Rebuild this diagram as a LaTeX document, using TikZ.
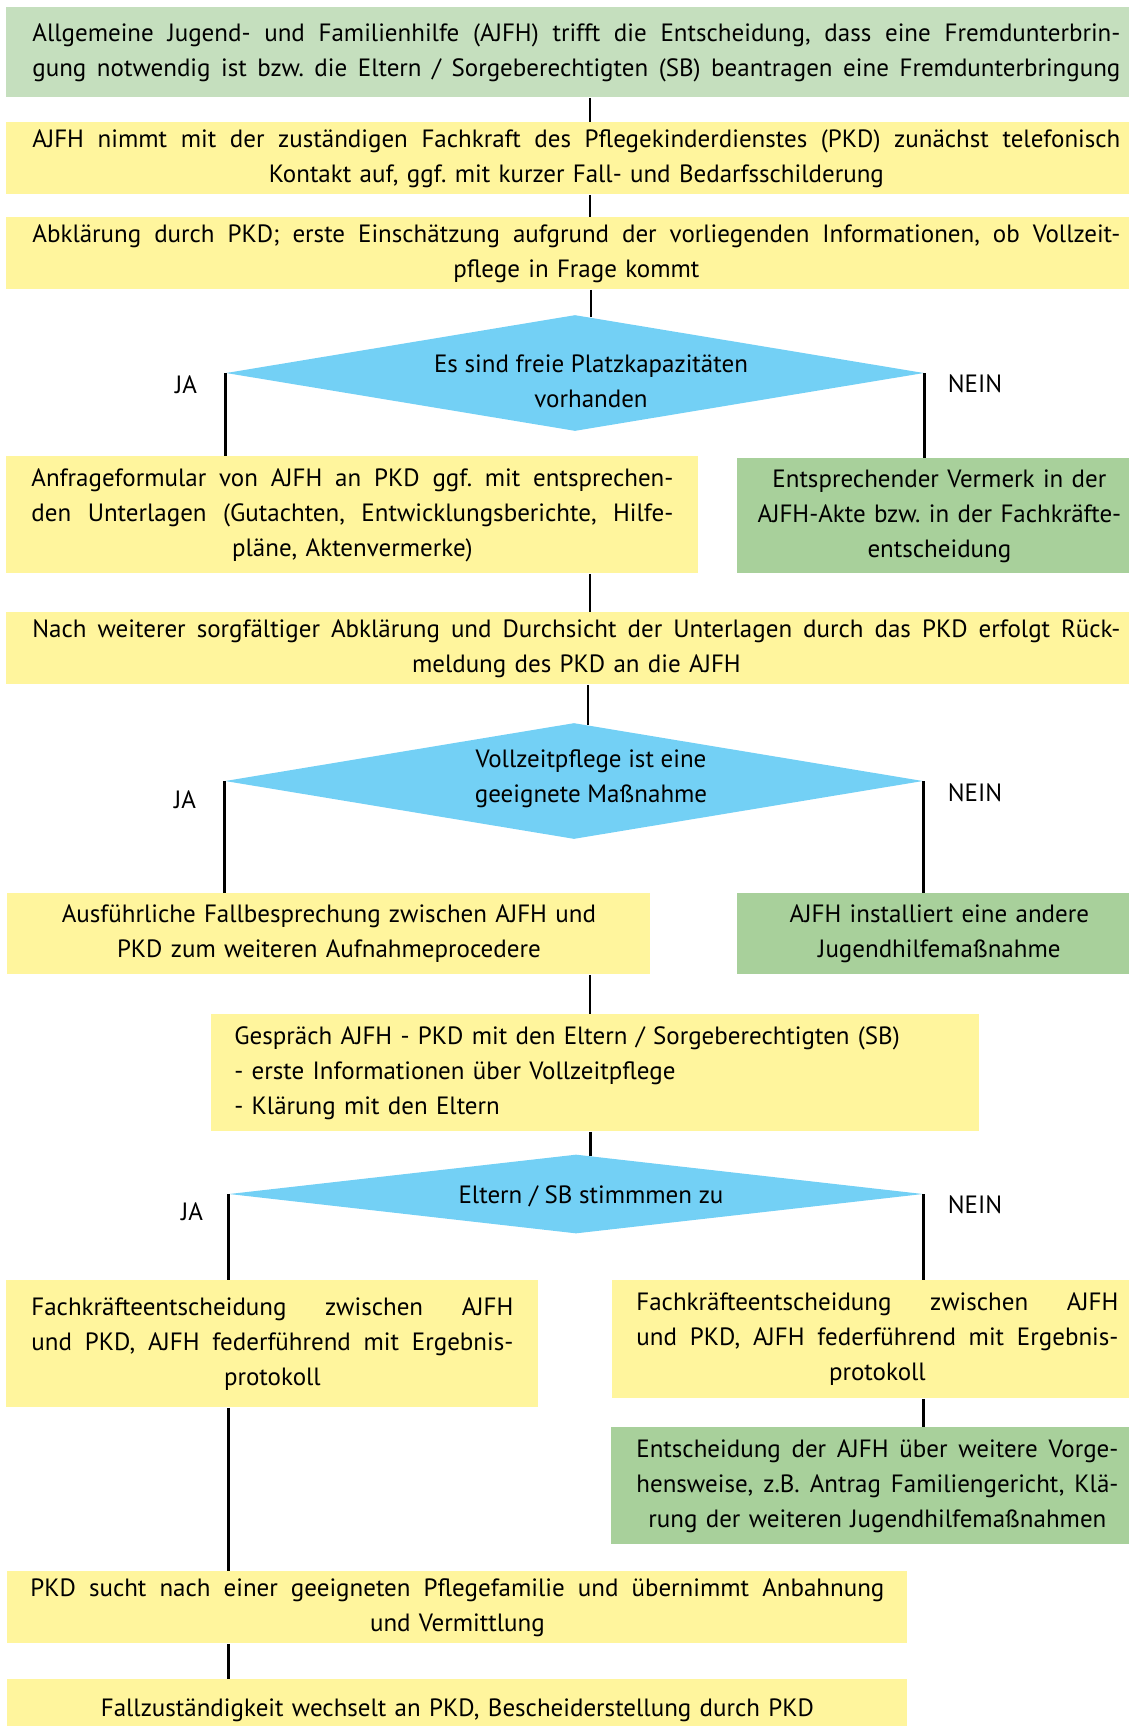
\documentclass[tikz,border=0pt]{standalone}
\usepackage{fontspec}
\setmainfont{PT Sans}
\usetikzlibrary{shapes.geometric,positioning}

\definecolor{boxyellow}{RGB}{255,245,157}
\definecolor{palegreen}{RGB}{197,223,190}
\definecolor{leafgreen}{RGB}{168,208,155}
\definecolor{skyblue}{RGB}{115,208,245}
% one justified line, spread to the full text width
\newcommand{\fullline}[1]{\makebox[\hsize][s]{\spaceskip=0pt\relax #1}}

\begin{document}
\begin{tikzpicture}[x=0.5pt,y=-0.5pt,
  txt/.style={font=\fontsize{12.5}{17.5}\selectfont\frenchspacing},
  box/.style={txt,anchor=north west,inner ysep=0pt,align=center},
  ybox/.style={box,fill=boxyellow},
  gbox/.style={box,fill=leafgreen},
  decision/.style={diamond,fill=skyblue,inner sep=0pt,minimum width=349pt,minimum height=58pt},
  flow/.style={line width=1.2pt}]

  \path[use as bounding box,clip] (0,0) rectangle (1129,1726);

  \node[box,fill=palegreen,inner xsep=13pt,text width=544pt,minimum height=45pt] (b1) at (6,7)
    {\fullline{Allgemeine Jugend- und Familienhilfe (AJFH) trifft die Entscheidung, dass eine Fremdunterbrin-}\\
     \fullline{gung notwendig ist bzw. die Eltern / Sorgeberechtigten (SB) beantragen eine Fremdunterbringung}};
  \node[ybox,inner xsep=13pt,text width=544pt,minimum height=36pt] (b2) at (6,122)
    {\fullline{AJFH nimmt mit der zuständigen Fachkraft des Pflegekinderdienstes (PKD) zunächst telefonisch}\\
     Kontakt auf, ggf. mit kurzer Fall- und Bedarfsschilderung};
  \node[ybox,inner xsep=13pt,text width=544pt,minimum height=36pt] (b3) at (6,217)
    {\fullline{Abklärung durch PKD; erste Einschätzung aufgrund der vorliegenden Informationen, ob Vollzeit-}\\
     pflege in Frage kommt};

  % first decision
  \node[decision] (d1) at (575,373) {};
  \node[txt,align=center] (d1t) at (591,381) {Es sind freie Platzkapazitäten\\vorhanden};
  \node[txt] (ja1) at (186,385) {JA};
  \node[txt] (nein1) at (975,384) {NEIN};

  \node[ybox,inner xsep=12.5pt,text width=321pt,minimum height=58.5pt] (b4) at (6,456)
    {\fullline{Anfrageformular von AJFH an PKD ggf. mit entsprechen-}\\
     \fullline{den Unterlagen (Gutachten, Entwicklungsberichte, Hilfe-}\\
     pläne, Aktenvermerke)};
  \node[gbox,inner xsep=6pt,text width=190pt,minimum height=57.5pt] (b5) at (737,458)
    {Entsprechender Vermerk in der\\AJFH-Akte bzw. in der Fachkräfte-\\entscheidung};

  \node[ybox,inner xsep=13pt,text width=544pt,minimum height=36pt] (b6) at (6,612)
    {\fullline{Nach weiterer sorgfältiger Abklärung und Durchsicht der Unterlagen durch das PKD erfolgt Rück-}\\
     meldung des PKD an die AJFH};

  % second decision
  \node[decision] (d2) at (574,781) {};
  \node[txt,align=center] (d2t) at (591,779) {Vollzeitpflege ist eine\\geeignete Maßnahme};
  \node[txt] (ja2) at (185,800) {JA};
  \node[txt] (nein2) at (975,793) {NEIN};

  \node[ybox,inner xsep=0pt,text width=321.5pt,minimum height=40.5pt] (b7) at (7,893)
    {Ausführliche Fallbesprechung zwischen AJFH und\\PKD zum weiteren Aufnahmeprocedere};
  \node[gbox,inner xsep=11pt,text width=180pt,minimum height=40.5pt] (b8) at (737,893)
    {AJFH installiert eine andere\\Jugendhilfemaßnahme};

  \node[ybox,align=left,inner xsep=11.5pt,text width=361pt,minimum height=58.5pt] (b9) at (211,1014)
    {Gespräch AJFH - PKD mit den Eltern / Sorgeberechtigten (SB)\\
     - erste Informationen über Vollzeitpflege\\
     - Klärung mit den Eltern};

  % third decision
  \node[decision,minimum width=347pt,minimum height=39.5pt] (d3) at (576,1194) {};
  \node[txt] (d3t) at (591,1196) {Eltern / SB stimmmen zu};
  \node[txt] (ja3) at (192,1212) {JA};
  \node[txt] (nein3) at (975,1205) {NEIN};

  \node[ybox,inner xsep=12.5pt,text width=241pt,minimum height=63.5pt] (b10) at (6,1280)
    {\fullline{Fachkräfteentscheidung zwischen AJFH}\\
     \fullline{und PKD, AJFH federführend mit Ergebnis-}\\
     protokoll};
  \node[ybox,inner xsep=12pt,text width=241pt,minimum height=59pt] (b11) at (612,1280)
    {\fullline{Fachkräfteentscheidung zwischen AJFH}\\
     \fullline{und PKD, AJFH federführend mit Ergebnis-}\\
     protokoll};
  \node[gbox,inner xsep=12.5pt,text width=241pt,minimum height=58.5pt] (b12) at (611,1427)
    {\fullline{Entscheidung der AJFH über weitere Vorge-}\\
     \fullline{hensweise, z.B. Antrag Familiengericht, Klä-}\\
     rung der weiteren Jugendhilfemaßnahmen};

  \node[ybox,inner xsep=11.5pt,text width=427pt,minimum height=36pt] (b13) at (7,1571)
    {\fullline{PKD sucht nach einer geeigneten Pflegefamilie und übernimmt Anbahnung}\\
     und Vermittlung};
  \node[ybox,inner xsep=11.5pt,text width=427pt,minimum height=31pt] (b14) at (7,1679)
    {Fallzuständigkeit wechselt an PKD, Bescheiderstellung durch PKD};

  % connectors
  \coordinate (spine) at (590,0);
  \draw[flow] (b1.south -| spine) -- (b2.north -| spine);
  \draw[flow] (b2.south -| spine) -- (b3.north -| spine);
  \draw[flow] (b3.south -| d1.74.9) -- (d1.74.9);
  \draw[flow] (d1.west) -- (d1.west |- b4.north);
  \draw[flow] (d1.east) -- (d1.east |- b5.north);
  \draw[flow] (b4.south -| spine) -- (b6.north -| spine);
  \draw[flow] (b6.south -| d2.76) -- (d2.76);
  \draw[flow] (d2.west) -- (d2.west |- b7.north);
  \draw[flow] (d2.east) -- (d2.east |- b8.north);
  \draw[flow] (b7.south -| spine) -- (b9.north -| spine);
  \draw[flow] (b9.south -| d3.69.7) -- (d3.69.7);
  \draw[flow] (d3.west) -- (d3.west |- b10.north);
  \draw[flow] (d3.east) -- (d3.east |- b11.north);
  \draw[flow] (b11.south -| d3.east) -- (b12.north -| d3.east);
  \draw[flow] (b10.south -| d3.west) -- (b13.north -| d3.west);
  \draw[flow] (b13.south -| d3.west) -- (b14.north -| d3.west);
\end{tikzpicture}
\end{document}
